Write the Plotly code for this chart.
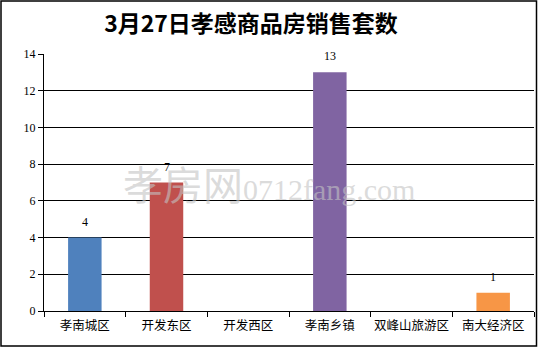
import plotly.graph_objects as go

categories = ["孝南城区", "开发东区", "开发西区", "孝南乡镇", "双峰山旅游区", "南大经济区"]
values = [4, 7, 0, 13, 0, 1]
colors = ["#4f81bd", "#c0504d", "#9bbb59", "#8064a2", "#4bacc6", "#f79646"]
labels = ["4", "7", "", "13", "", "1"]
yticks = [0, 2, 4, 6, 8, 10, 12, 14]

W, H = 538, 349
L, R, T, B = 44, 4, 54, 38
pw, ph = W - L - R, H - T - B

fig = go.Figure()
fig.add_trace(go.Bar(
    x=categories, y=values, marker=dict(color=colors, line=dict(width=0)),
    width=0.41,
))

for c, v, t in zip(categories, values, labels):
    if t:
        fig.add_annotation(x=c, y=v, text=t, showarrow=False, yanchor="bottom", yshift=7,
                           font=dict(family="Liberation Serif, DejaVu Serif", size=12, color="black"))

fig.update_layout(
    width=W, height=H,
    margin=dict(l=L, r=R, t=T, b=B, autoexpand=False),
    paper_bgcolor="white", plot_bgcolor="white",
    showlegend=False,
    title=dict(text="<b>3月27日孝感商品房销售套数</b>", x=251 / W, xanchor="center",
               y=1 - 24 / H, yanchor="middle",
               font=dict(family="Noto Sans CJK SC", size=23, color="black")),
    xaxis=dict(type="category", showgrid=False, showline=True, linecolor="black", linewidth=1,
               ticks="outside", tickson="boundaries", ticklen=5, tickcolor="black",
               tickangle=0, automargin=False, ticklabelstandoff=3,
               tickfont=dict(family="Noto Sans CJK SC", size=12.5, color="black")),
    yaxis=dict(range=[0, 14], tickvals=yticks, showgrid=True, gridcolor="black", gridwidth=1,
               showline=True, linecolor="black", linewidth=1, zeroline=False,
               ticks="outside", ticklen=5, tickcolor="black", automargin=False,
               tickfont=dict(family="Liberation Serif, DejaVu Serif", size=12, color="black")),
    bargap=0.59,
)

# watermark
fig.add_annotation(text="孝房网<span style='font-family:Liberation Serif;font-size:30px'>0712fang.com</span>",
                   xref="paper", yref="paper",
                   x=(269 - L) / pw, y=(H - B - 183) / ph, showarrow=False,
                   font=dict(family="Noto Sans CJK SC", size=40, color="rgba(195,195,195,0.6)"))

# outer frame
fig.add_shape(type="rect", xref="paper", yref="paper",
              x0=(1 - L) / pw, x1=(W - 1.5 - L) / pw,
              y0=(B - 3) / -ph, y1=1 + (T - 1) / ph,
              line=dict(color="black", width=1.5), layer="below")

fig.write_html("out.html")
